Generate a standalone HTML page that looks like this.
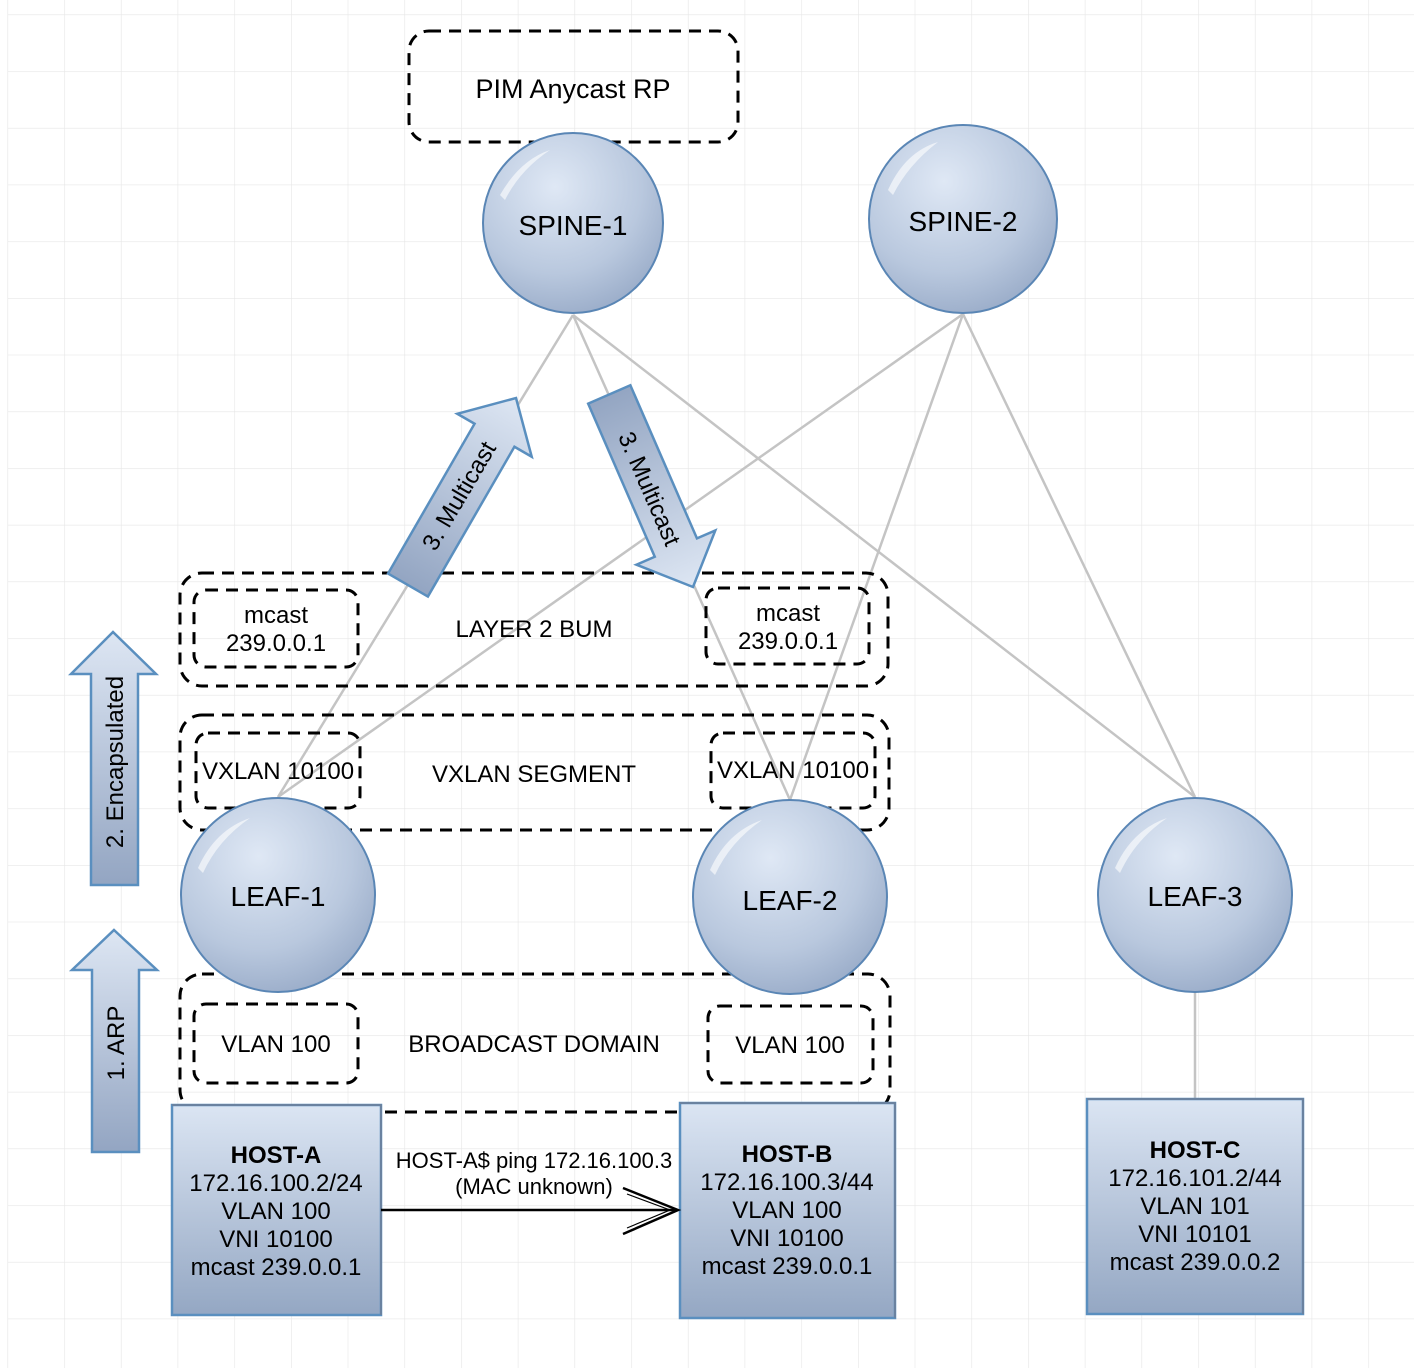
<!DOCTYPE html>
<html><head><meta charset="utf-8"><style>
html,body{margin:0;padding:0;background:#fff;}
svg{display:block;}
text{font-family:"Liberation Sans",Arial,sans-serif;fill:#000;}
</style></head><body>
<svg width="1414" height="1368" viewBox="0 0 1414 1368" xmlns="http://www.w3.org/2000/svg">
<defs>
<pattern id="grid" x="7.5" y="14.5" width="56.7" height="56.7" patternUnits="userSpaceOnUse">
<path d="M0 0H56.7M0 0V56.7" stroke="#e6e6e6" stroke-width="1.2" fill="none"/>
</pattern>
<radialGradient id="cg" cx="0.4" cy="0.3" r="0.8">
<stop offset="0" stop-color="#dfe8f5"/><stop offset="0.6" stop-color="#b9c8de"/><stop offset="1" stop-color="#93a6c4"/>
</radialGradient>
<linearGradient id="hg" x1="0" y1="0" x2="0" y2="1">
<stop offset="0" stop-color="#dbe5f3"/><stop offset="1" stop-color="#94a7c3"/>
</linearGradient>
<linearGradient id="ag" x1="0" y1="0" x2="0" y2="1">
<stop offset="0" stop-color="#dde6f3"/><stop offset="1" stop-color="#93a5c2"/>
</linearGradient>
</defs>
<rect x="0" y="0" width="1414" height="1368" fill="#fff"/>
<rect x="7.5" y="0" width="1406.5" height="1368" fill="url(#grid)"/>
<rect x="0" y="0" width="7" height="1368" fill="#fff"/>

<g stroke="#c4c4c4" stroke-width="2.5" fill="none">
<line x1="573" y1="315" x2="278" y2="797"/>
<line x1="573" y1="315" x2="790" y2="800"/>
<line x1="573" y1="315" x2="1195" y2="797"/>
<line x1="963" y1="314" x2="278" y2="797"/>
<line x1="963" y1="314" x2="790" y2="800"/>
<line x1="963" y1="314" x2="1195" y2="797"/>
<line x1="1195" y1="990" x2="1195" y2="1100"/>
</g>

<g fill="none" stroke="#000" stroke-width="3" stroke-dasharray="12 8">
<rect x="409" y="31" width="329" height="111" rx="20"/>
<rect x="180" y="573" width="708" height="113" rx="22"/>
<rect x="194" y="590" width="164" height="77" rx="12"/>
<rect x="706" y="588" width="163" height="76" rx="12"/>
<rect x="180" y="715" width="709" height="115" rx="22"/>
<rect x="196" y="733" width="164" height="75" rx="12"/>
<rect x="711" y="733" width="164" height="75" rx="12"/>
<rect x="180" y="974" width="710" height="138" rx="22"/>
<rect x="194" y="1004" width="164" height="79" rx="12"/>
<rect x="708" y="1006" width="165" height="77" rx="12"/>
</g>
<g font-size="24" text-anchor="middle">
<text x="573" y="98" font-size="27">PIM Anycast RP</text>
<text x="276" y="623">mcast</text><text x="276" y="651">239.0.0.1</text>
<text x="788" y="621">mcast</text><text x="788" y="649">239.0.0.1</text>
<text x="534" y="637">LAYER 2 BUM</text>
<text x="278" y="779">VXLAN 10100</text>
<text x="793" y="778">VXLAN 10100</text>
<text x="534" y="782">VXLAN SEGMENT</text>
<text x="276" y="1052">VLAN 100</text>
<text x="790" y="1053">VLAN 100</text>
<text x="534" y="1052">BROADCAST DOMAIN</text>
</g>

<g stroke="#5a86b5" stroke-width="2" fill="url(#cg)">
<circle cx="573" cy="223" r="90"/>
<circle cx="963" cy="219" r="94"/>
<circle cx="278" cy="895" r="97"/>
<circle cx="790" cy="897" r="97"/>
<circle cx="1195" cy="895" r="97"/>
</g>
<g fill="#fff" opacity="0.6">
<path d="M500 195 Q520 160 550 150 Q520 170 505 200Z"/>
<path d="M888 190 Q905 152 938 142 Q908 165 893 195Z"/>
<path d="M198 868 Q215 830 250 818 Q218 840 203 873Z"/>
<path d="M710 870 Q727 832 762 820 Q730 842 715 875Z"/>
<path d="M1115 868 Q1132 830 1167 818 Q1135 840 1120 873Z"/>
</g>
<g font-size="28" text-anchor="middle">
<text x="573" y="235">SPINE-1</text>
<text x="963" y="231">SPINE-2</text>
<text x="278" y="906">LEAF-1</text>
<text x="790" y="910">LEAF-2</text>
<text x="1195" y="906">LEAF-3</text>
</g>

<g stroke="#5a8fbf" stroke-width="2.5" fill="url(#hg)">
<rect x="172" y="1105" width="209" height="210"/>
<rect x="680" y="1103" width="215" height="215"/>
<rect x="1087" y="1099" width="216" height="215"/>
</g>
<g fill="none" stroke="#6f7f95" stroke-width="1.5">
<path d="M172 1105H381V1315"/><path d="M680 1103H895V1318"/><path d="M1087 1099H1303V1314"/>
</g>
<g font-size="24" text-anchor="middle">
<text x="276" y="1163" font-weight="bold">HOST-A</text>
<text x="276" y="1191">172.16.100.2/24</text>
<text x="276" y="1219">VLAN 100</text>
<text x="276" y="1247">VNI 10100</text>
<text x="276" y="1275">mcast 239.0.0.1</text>
<text x="787" y="1162" font-weight="bold">HOST-B</text>
<text x="787" y="1190">172.16.100.3/44</text>
<text x="787" y="1218">VLAN 100</text>
<text x="787" y="1246">VNI 10100</text>
<text x="787" y="1274">mcast 239.0.0.1</text>
<text x="1195" y="1158" font-weight="bold">HOST-C</text>
<text x="1195" y="1186">172.16.101.2/44</text>
<text x="1195" y="1214">VLAN 101</text>
<text x="1195" y="1242">VNI 10101</text>
<text x="1195" y="1270">mcast 239.0.0.2</text>
</g>

<line x1="381" y1="1210" x2="677" y2="1210" stroke="#000" stroke-width="2.5"/>
<polyline points="623,1188 678,1210 623,1234" fill="none" stroke="#000" stroke-width="2.5"/>
<polyline points="627,1194 670,1210 627,1228" fill="none" stroke="#000" stroke-width="1.2"/>
<g font-size="22" text-anchor="middle">
<text x="534" y="1168">HOST-A$ ping 172.16.100.3</text>
<text x="534" y="1194">(MAC unknown)</text>
</g>

<g stroke="#5a8fbf" stroke-width="2.5" fill="url(#ag)">
<polygon points="113,632 156,674 138,674 138,885 91,885 91,674 71,674"/>
<polygon points="114,930 157,970 139,970 139,1152 92,1152 92,970 72,970"/>
<polygon transform="translate(516,398) rotate(30)" points="0,0 43,43 23,43 23,216 -23,216 -23,43 -43,43"/>
<polygon transform="translate(693,587) rotate(156.5)" points="0,0 43,43 23,43 23,210 -23,210 -23,43 -43,43"/>
</g>
<g font-size="24" text-anchor="middle">
<text transform="translate(123,762) rotate(-90)">2. Encapsulated</text>
<text transform="translate(124,1043) rotate(-90)">1. ARP</text>
<text transform="translate(466,500) rotate(-59.5)">3. Multicast</text>
<text transform="translate(642,492) rotate(66.5)">3. Multicast</text>
</g>
</svg>
</body></html>
